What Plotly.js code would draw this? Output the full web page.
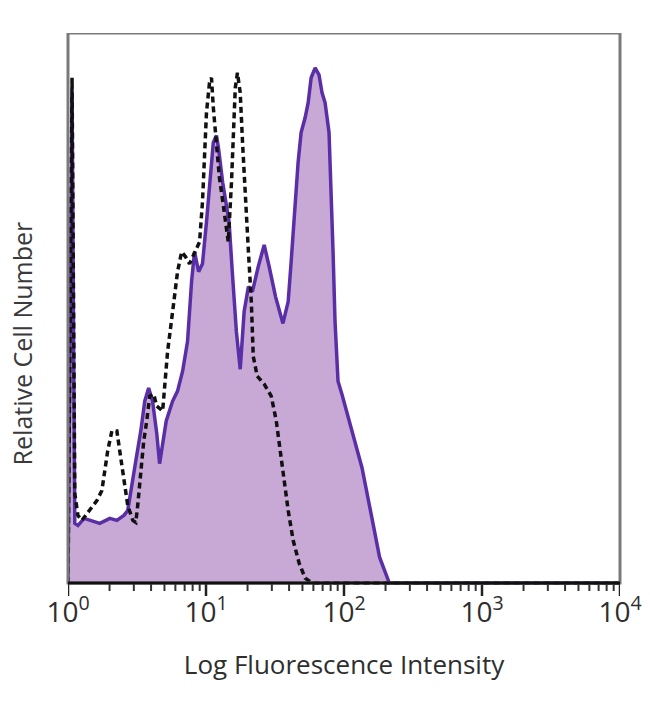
<!DOCTYPE html>
<html>
<head>
<meta charset="utf-8">
<script src="https://cdn.plot.ly/plotly-3.0.1.min.js"></script>
<style>html,body{margin:0;padding:0;background:#fff;}#chart{width:650px;height:704px;}</style>
</head>
<body>
<div id="chart"></div>
<script>
// Stained sample (filled, solid purple outline)
const stainedIntensity = [1.0, 1.07, 1.12, 1.18, 1.31, 1.44, 1.70, 2.01, 2.26, 2.54, 2.71, 3.10, 3.37, 3.60, 3.84, 4.10, 4.40, 4.61, 4.85, 5.15, 5.73, 6.22, 6.77, 7.35, 7.86, 8.26, 8.84, 9.43, 10.08, 10.8, 11.3, 11.9, 12.3, 13.2, 14.7, 15.5, 16.6, 17.7, 18.9, 20.3, 21.7, 23.9, 26.4, 28.7, 31.9, 36.1, 39.4, 41.4, 44.3, 46.5, 48.9, 52.3, 55.0, 57.8, 61.8, 65.9, 69.3, 72.9, 77.9, 80.5, 83.3, 86.1, 90.5, 96.5, 116, 135, 159, 181, 213, 10000];
const stainedCount = [0, 493, 60, 58, 65, 63, 60, 65, 63, 68, 73, 123, 153, 183, 196, 183, 150, 120, 140, 163, 183, 193, 213, 243, 303, 333, 313, 321, 363, 413, 443, 450, 438, 403, 363, 313, 253, 215, 273, 298, 293, 318, 340, 318, 288, 261, 283, 323, 383, 423, 453, 468, 483, 508, 518, 511, 493, 483, 453, 403, 333, 263, 203, 190, 150, 116, 66, 26, 0, 0];

// Control sample (dashed black)
const controlIntensity = [1.0, 1.07, 1.12, 1.18, 1.26, 1.42, 1.62, 1.76, 1.85, 1.94, 2.08, 2.26, 2.37, 2.54, 2.71, 2.95, 3.10, 3.20, 3.37, 3.54, 3.72, 3.91, 4.18, 4.39, 4.85, 5.27, 5.73, 6.22, 6.66, 7.11, 7.60, 8.26, 8.98, 9.43, 9.75, 10.08, 10.6, 10.96, 11.3, 11.9, 12.5, 13.4, 14.5, 15.3, 15.8, 16.3, 16.9, 17.7, 18.4, 19.3, 20.3, 21.3, 22.0, 23.5, 26.4, 29.7, 32.3, 34.5, 36.9, 39.4, 42.8, 47.3, 52.3, 58.7, 10000];
const controlCount = [0, 508, 90, 68, 63, 73, 83, 93, 113, 133, 153, 153, 133, 103, 78, 63, 61, 78, 113, 143, 163, 188, 190, 178, 173, 233, 273, 313, 333, 328, 321, 333, 343, 383, 433, 473, 503, 508, 478, 443, 408, 378, 343, 403, 463, 498, 513, 493, 443, 383, 333, 283, 228, 208, 200, 188, 163, 133, 103, 73, 43, 20, 5, 0, 0];

const tickVals = [1, 10, 100, 1000, 10000];
const tickText = ['10<sup>0</sup>', '10<sup>1</sup>', '10<sup>2</sup>', '10<sup>3</sup>', '10<sup>4</sup>'];
const minorTickVals = [];
for (let d = 1; d < 10000; d *= 10) {
  for (let m = 2; m <= 9; m++) minorTickVals.push(m * d);
}

// y range keeps a strip below zero where the tick marks are drawn
const yTop = 553, yBottom = -14;
const majorLen = 13, minorLen = 8;

function tickSegments(vals, len) {
  const xs = [], ys = [];
  vals.forEach(v => { xs.push(v, v, null); ys.push(0, -len, null); });
  return {xs, ys};
}
const majorSeg = tickSegments(tickVals, majorLen);
const minorSeg = tickSegments(minorTickVals, minorLen);

const traces = [
  {
    x: stainedIntensity, y: stainedCount, type: 'scatter', mode: 'lines',
    fill: 'tozeroy', fillcolor: '#c8a9d6',
    line: {color: '#5a2ea6', width: 3.5}, hoverinfo: 'skip'
  },
  {
    x: controlIntensity, y: controlCount, type: 'scatter', mode: 'lines',
    line: {color: '#111111', width: 3.5, dash: '6px,4px'}, hoverinfo: 'skip'
  },
  {
    x: majorSeg.xs, y: majorSeg.ys, type: 'scatter', mode: 'lines', connectgaps: false,
    line: {color: '#222222', width: 2.5}, hoverinfo: 'skip', cliponaxis: false
  },
  {
    x: minorSeg.xs, y: minorSeg.ys, type: 'scatter', mode: 'lines', connectgaps: false,
    line: {color: '#333333', width: 2}, hoverinfo: 'skip', cliponaxis: false
  }
];

const txtFont = 'Open Sans, sans-serif';
const layout = {
  width: 650, height: 704,
  margin: {l: 68, r: 30, t: 33, b: 107},
  paper_bgcolor: '#ffffff', plot_bgcolor: 'rgba(0,0,0,0)',
  showlegend: false,
  font: {family: txtFont, color: '#2e2e2e'},
  xaxis: {
    type: 'log', range: [0, 4],
    tickmode: 'array', tickvals: tickVals, ticktext: tickText,
    ticks: '', ticklabelstandoff: -4,
    showgrid: false, zeroline: false, showline: false,
    tickfont: {size: 28, color: '#2e2e2e', family: txtFont},
    title: {text: 'Log Fluorescence Intensity', font: {size: 26, color: '#2e2e2e', family: txtFont, weight: 500}, standoff: 26}
  },
  yaxis: {
    range: [yBottom, yTop], showticklabels: false, ticks: '', showgrid: false, zeroline: false, showline: false
  },
  annotations: [
    {text: 'Relative Cell Number', xref: 'paper', yref: 'paper', x: -0.083, y: 0.45, xanchor: 'center', yanchor: 'middle',
     textangle: -90, showarrow: false, font: {size: 25, color: '#3a3a3a', family: txtFont, weight: 500}}
  ],
  shapes: [
    {type: 'rect', xref: 'paper', yref: 'y', x0: 0, x1: 1, y0: 0, y1: yTop, line: {color: '#7a7a7a', width: 3}, layer: 'above'},
    {type: 'line', xref: 'paper', yref: 'y', x0: 0, x1: 1, y0: 0, y1: 0, line: {color: '#111', width: 3}, layer: 'above'}
  ]
};

Plotly.newPlot('chart', traces, layout, {staticPlot: true, displayModeBar: false});
</script>
</body>
</html>
